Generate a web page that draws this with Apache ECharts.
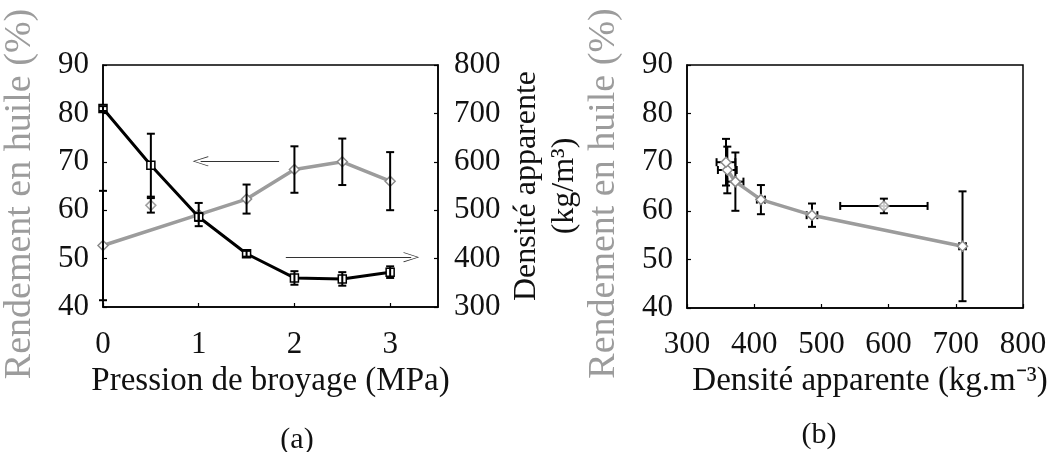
<!DOCTYPE html>
<html>
<head>
<meta charset="utf-8">
<script src="https://cdn.jsdelivr.net/npm/echarts@6/dist/echarts.min.js"></script>
<style>html,body{margin:0;padding:0;background:#fff}#c{width:1060px;height:452px}</style>
</head>
<body>
<div id="c"></div>
<script>
// ---- data ----
const pressure   = [0, 0.5, 1, 1.5, 2, 2.5, 3];               // MPa
const density    = [710, 593, 486, 410, 360, 358, 372];       // kg/m3
const densityErr = [5, 65, 8, 6, 14, 14, 12];
const yieldPct   = [52.7, 61.0, 59.1, 62.3, 68.4, 70.0, 66.0]; // %
const yieldErr   = [11.3, 1.5, 2.4, 3.0, 4.8, 4.8, 6.0];
const unconnected = [1];                                      // point not on the yield curve
const yieldTicks = [40, 90, 10];
const densityTicks = [300, 800, 100];
const pressureTicks = [0, 3.5, 1];
// annotation arrows (data coords)
const arrowToYield   = [[1.84, 70.1], [1.02, 70.1]];
const arrowToDensity = [[1.91, 403], [3.22, 403]];

const FONT = 'Liberation Serif';
const GRAY = '#9c9c9c';

const blackLine = pressure.map((p, i) => [p, density[i]]);
const grayLine = pressure.map((p, i) => [p, yieldPct[i]]).filter((_, i) => !unconnected.includes(i));
const grayOut = unconnected.map(i => [pressure[i], yieldPct[i]]);
const densErrA = pressure.map((p, i) => [p, density[i], densityErr[i]]);
const yieldErrA = pressure.map((p, i) => [p, yieldPct[i], yieldErr[i]]);

const bIdx = pressure.map((_, i) => i);
const connB = bIdx.filter(i => !unconnected.includes(i)).sort((a, b) => density[b] - density[a]);
const bLine = connB.map(i => [density[i], yieldPct[i]]);
const bOut = unconnected.map(i => [density[i], yieldPct[i]]);
const bYErr = bIdx.map(i => [density[i], yieldPct[i], yieldErr[i]]);
const bXErr = bIdx.map(i => [density[i], yieldPct[i], densityErr[i]]);

function errBars(horizontal) {
  return function (params, api) {
    const x = api.value(0), y = api.value(1), e = api.value(2);
    let a, b;
    if (horizontal) { a = api.coord([x - e, y]); b = api.coord([x + e, y]); }
    else { a = api.coord([x, y - e]); b = api.coord([x, y + e]); }
    const c = 4;
    const st = { stroke: '#000', lineWidth: 2 };
    const kids = [{ type: 'line', shape: { x1: a[0], y1: a[1], x2: b[0], y2: b[1] }, style: st }];
    if (horizontal) {
      kids.push({ type: 'line', shape: { x1: a[0], y1: a[1] - c, x2: a[0], y2: a[1] + c }, style: st });
      kids.push({ type: 'line', shape: { x1: b[0], y1: b[1] - c, x2: b[0], y2: b[1] + c }, style: st });
    } else {
      kids.push({ type: 'line', shape: { x1: a[0] - c, y1: a[1], x2: a[0] + c, y2: a[1] }, style: st });
      kids.push({ type: 'line', shape: { x1: b[0] - c, y1: b[1], x2: b[0] + c, y2: b[1] }, style: st });
    }
    return { type: 'group', children: kids };
  };
}

const chevron = 'path://M0,12 L6,0 L12,12 L11.2,12.5 L6,1.6 L0.8,12.5 Z';
const label = { fontFamily: FONT, fontSize: 31, color: '#111' };
const axisLine = { show: true, lineStyle: { color: '#000', width: 1.5 } };
const tick = { show: true, inside: true, length: 4, lineStyle: { color: '#000', width: 1.2 } };

const option = {
  animation: false,
  backgroundColor: '#fff',
  title: [
    { text: '(a)', left: 292, top: 420, textAlign: 'center', textStyle: { fontFamily: FONT, fontSize: 30, fontWeight: 'normal', color: '#111' } },
    { text: '(b)', left: 814, top: 415, textAlign: 'center', textStyle: { fontFamily: FONT, fontSize: 30, fontWeight: 'normal', color: '#111' } }
  ],
  grid: [
    { left: 101, top: 65, width: 337, height: 242, show: true, borderColor: '#000', borderWidth: 1.5, backgroundColor: 'transparent' },
    { left: 687, top: 65, width: 336, height: 243, show: true, borderColor: '#000', borderWidth: 1.5, backgroundColor: 'transparent' }
  ],
  xAxis: [
    { type: 'value', gridIndex: 0, min: pressureTicks[0], max: pressureTicks[1], interval: pressureTicks[2],
      splitLine: { show: false }, axisLine, axisTick: tick,
      axisLabel: Object.assign({ margin: 22, showMaxLabel: false }, label),
      name: 'Pression de broyage (MPa)', nameLocation: 'middle', nameGap: 54,
      nameTextStyle: { fontFamily: FONT, fontSize: 33, color: '#111' } },
    { type: 'value', gridIndex: 1, min: densityTicks[0], max: densityTicks[1], interval: densityTicks[2],
      splitLine: { show: false }, axisLine, axisTick: tick,
      axisLabel: Object.assign({ margin: 21 }, label),
      name: 'Densité apparente (kg.m⁻³)', nameLocation: 'middle', nameGap: 50,
      nameTextStyle: { fontFamily: FONT, fontSize: 33, color: '#111', padding: [0, 0, 0, 30] } }
  ],
  yAxis: [
    { type: 'value', gridIndex: 0, min: yieldTicks[0], max: yieldTicks[1], interval: yieldTicks[2],
      splitLine: { show: false }, axisLine, axisTick: tick,
      axisLabel: Object.assign({ margin: 14 }, label),
      name: 'Rendement en huile (%)', nameLocation: 'middle', nameGap: 64, nameRotate: 90,
      nameTextStyle: { fontFamily: FONT, fontSize: 38, color: GRAY, padding: [0, 16, 0, 0] } },
    { type: 'value', gridIndex: 0, position: 'right', min: densityTicks[0], max: densityTicks[1], interval: densityTicks[2],
      splitLine: { show: false }, axisLine, axisTick: tick,
      axisLabel: Object.assign({ margin: 16 }, label),
      name: 'Densité apparente\n(kg/m³)', nameLocation: 'middle', nameGap: 70, nameRotate: 90,
      nameTextStyle: { fontFamily: FONT, fontSize: 32, color: '#111', lineHeight: 38 } },
    { type: 'value', gridIndex: 1, min: yieldTicks[0], max: yieldTicks[1], interval: yieldTicks[2],
      splitLine: { show: false }, axisLine, axisTick: tick,
      axisLabel: Object.assign({ margin: 14 }, label),
      name: 'Rendement en huile (%)', nameLocation: 'middle', nameGap: 64, nameRotate: 90,
      nameTextStyle: { fontFamily: FONT, fontSize: 38, color: GRAY, padding: [0, 14, 0, 0] } }
  ],
  series: [
    // ---- panel (a) ----
    { name: 'Rendement', type: 'line', xAxisIndex: 0, yAxisIndex: 0, data: grayLine, z: 2,
      lineStyle: { color: GRAY, width: 3.5 }, symbol: 'diamond', symbolSize: 10,
      itemStyle: { color: '#fff', borderColor: '#8a8a8a', borderWidth: 1.5 },
      markLine: { silent: true, symbol: ['none', chevron], symbolSize: [10, 16], label: { show: false },
        lineStyle: { color: '#333', width: 1, type: 'solid' },
        data: [[{ coord: arrowToYield[0] }, { coord: arrowToYield[1] }]] } },
    { name: 'Rendement (hors courbe)', type: 'scatter', xAxisIndex: 0, yAxisIndex: 0, data: grayOut, z: 2,
      symbol: 'diamond', symbolSize: 10, itemStyle: { color: '#fff', borderColor: '#8a8a8a', borderWidth: 1.5 } },
    { name: 'Densité', type: 'line', xAxisIndex: 0, yAxisIndex: 1, data: blackLine, z: 3,
      lineStyle: { color: '#000', width: 3 }, symbol: 'rect', symbolSize: 8,
      itemStyle: { color: '#fff', borderColor: '#000', borderWidth: 1.5 },
      markLine: { silent: true, symbol: ['none', chevron], symbolSize: [10, 16], label: { show: false },
        lineStyle: { color: '#333', width: 1, type: 'solid' },
        data: [[{ coord: arrowToDensity[0] }, { coord: arrowToDensity[1] }]] } },
    { type: 'custom', xAxisIndex: 0, yAxisIndex: 1, data: densErrA, renderItem: errBars(false),
      encode: { x: 0, y: 1 }, z: 4, silent: true },
    { type: 'custom', xAxisIndex: 0, yAxisIndex: 0, data: yieldErrA, renderItem: errBars(false),
      encode: { x: 0, y: 1 }, z: 4, silent: true },
    // ---- panel (b) ----
    { type: 'custom', xAxisIndex: 1, yAxisIndex: 2, data: bYErr, renderItem: errBars(false),
      encode: { x: 0, y: 1 }, z: 1, silent: true },
    { type: 'custom', xAxisIndex: 1, yAxisIndex: 2, data: bXErr, renderItem: errBars(true),
      encode: { x: 0, y: 1 }, z: 1, silent: true },
    { name: 'Rendement vs densité', type: 'line', xAxisIndex: 1, yAxisIndex: 2, data: bLine, z: 3,
      lineStyle: { color: GRAY, width: 3.5 }, symbol: 'diamond', symbolSize: 10,
      itemStyle: { color: '#fff', borderColor: '#8a8a8a', borderWidth: 1.5 } },
    { type: 'scatter', xAxisIndex: 1, yAxisIndex: 2, data: bOut, z: 3,
      symbol: 'diamond', symbolSize: 10, itemStyle: { color: '#fff', borderColor: '#8a8a8a', borderWidth: 1.5 } }
  ]
};

const chart = echarts.init(document.getElementById('c'), null, { renderer: 'canvas' });
chart.setOption(option);
</script>
</body>
</html>
